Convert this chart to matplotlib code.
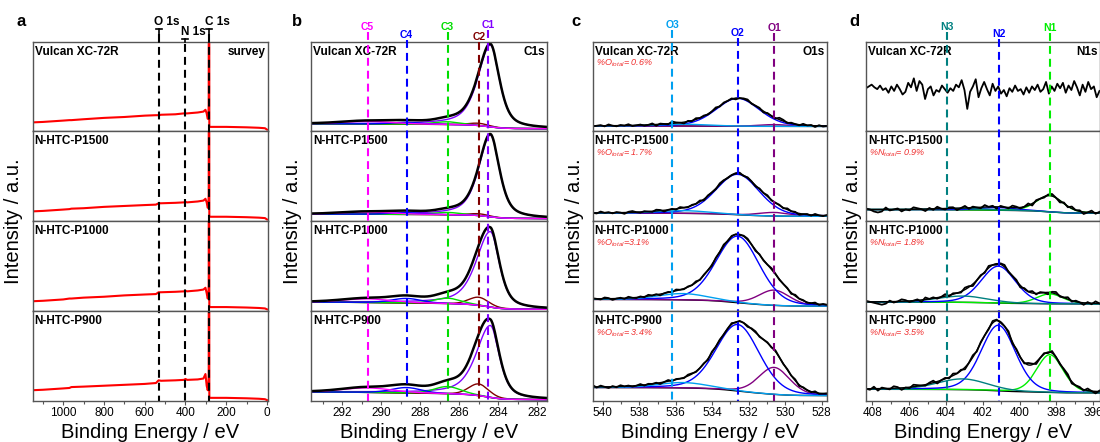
import numpy as np
import matplotlib.pyplot as plt
from matplotlib import transforms

plt.rcParams['font.family'] = ['Liberation Sans', 'DejaVu Sans']
plt.rcParams['mathtext.fontset'] = 'custom'
plt.rcParams['mathtext.rm'] = 'Liberation Sans'
plt.rcParams['mathtext.it'] = 'Liberation Sans:italic'

samples = ['Vulcan XC-72R', 'N-HTC-P1500', 'N-HTC-P1000', 'N-HTC-P900']

# ---------------- a: survey (fraction of row height)
survey_be = [1150, 1100, 1000, 970, 960, 900, 800, 700, 600, 545, 532, 520, 450, 408,
             400, 392, 340, 312, 302, 296, 291, 288, 286, 284.5, 283, 270, 200, 100, 40, 10, 0]
surv_vulcan = [0.10, 0.105, 0.12, 0.125, 0.125, 0.135, 0.15, 0.16, 0.175, 0.18, 0.18, 0.185, 0.19, 0.2,
               0.2, 0.2, 0.21, 0.22, 0.24, 0.2, 0.14, 0.15, 0.3, 6.0, 0.05, 0.05, 0.05, 0.045, 0.04, 0.035, 0.02]
surv_p1500 = [0.11, 0.115, 0.13, 0.135, 0.14, 0.145, 0.16, 0.17, 0.18, 0.185, 0.2, 0.2, 0.205, 0.21,
              0.215, 0.21, 0.22, 0.23, 0.25, 0.21, 0.15, 0.16, 0.3, 6.0, 0.05, 0.05, 0.05, 0.045, 0.04, 0.035, 0.02]
surv_p1000 = [0.11, 0.115, 0.13, 0.14, 0.14, 0.15, 0.16, 0.175, 0.185, 0.19, 0.21, 0.21, 0.215, 0.22,
              0.225, 0.22, 0.23, 0.24, 0.26, 0.2, 0.14, 0.16, 0.3, 6.0, 0.045, 0.045, 0.045, 0.04, 0.035, 0.03, 0.02]
surv_p900 = [0.12, 0.125, 0.14, 0.145, 0.155, 0.16, 0.17, 0.18, 0.19, 0.2, 0.23, 0.225, 0.23, 0.235,
             0.245, 0.235, 0.24, 0.25, 0.3, 0.17, 0.12, 0.15, 0.3, 6.0, 0.035, 0.035, 0.035, 0.03, 0.025, 0.02, 0.01]
survey_marks = [532, 400, 284]
survey_mark_names = ['O 1s', 'N 1s', 'C 1s']

# ---------------- b: C1s fit
c_names = ['C1', 'C2', 'C3', 'C4', 'C5']
c_lines = [284.5, 285.0, 286.6, 288.7, 290.7]
c_pos = [284.4, 285.0, 286.6, 288.7, 290.7]
c_fwhm = [1.1, 1.2, 1.6, 1.8, 3.0]
c1_tail = [1.5, 1.4, 1.7, 1.7]
c_amp_vulcan = [0.91, 0.025, 0.03, 0.02, 0.03]
c_amp_p1500 = [0.91, 0.02, 0.025, 0.02, 0.025]
c_amp_p1000 = [0.84, 0.09, 0.06, 0.05, 0.04]
c_amp_p900 = [0.80, 0.13, 0.08, 0.06, 0.05]
c_bg_left = [0.085, 0.08, 0.10, 0.10]
c_bg_right = [0.03, 0.03, 0.02, 0.015]

# ---------------- c: O1s fit
o_names = ['O1', 'O2', 'O3']
o_lines = [530.6, 532.6, 536.2]
o_pos = [530.6, 532.6, 535.6]
o_fwhm = [2.0, 2.8, 3.2]
o_amp_vulcan = [0.02, 0.31, 0.02]
o_amp_p1500 = [0.04, 0.45, 0.03]
o_amp_p1000 = [0.17, 0.74, 0.07]
o_amp_p900 = [0.30, 0.74, 0.06]
o_bg_left = [0.06, 0.09, 0.13, 0.15]
o_bg_right = [0.055, 0.055, 0.055, 0.06]
o_total = ['= 0.6%', '= 1.7%', '=3.1%', '= 3.4%']
o_noise1 = [0, -1, 1, -2, 1, 0, 2, -1, 0, 1, -1, 2, 3, -1, 0, 1, -2, 1, 0, -1, 2, 1, 0, -2, 1, 0, 1, -1, 2, 0,
            -1, 1, 0, 2, -1, 1, -2, 0, 1, 3, -1, 0, 1, -2, 2, 0, -1, 1, 0, -1, 2, 0, 1, -1, 0, 2, -1, 1, 0, -1]
o_noise2 = [1, -1, 0, 2, -1, 1, 0, -2, 1, 0, 2, -1, 1, 0, -1, 2, 0, 1, -2, 0, 1, -1, 2, 1, 0, -1, 1, 2, -1, 0,
            1, -2, 2, 0, 1, -1, 0, 2, -1, 1, 0, -2, 1, 2, -1, 0, 1, -1, 0, 2, 1, -2, 0, 1, -1, 1, 0, 2, -1, 0]
o_noise3 = [0, 1, -1, 2, 0, -1, 1, 0, 2, -2, 1, 0, -1, 1, 2, 0, -1, 1, -2, 0, 2, 1, -1, 0, 1, -1, 2, 0, 1, -2,
            0, 1, -1, 2, 0, 1, -1, 0, 2, -1, 1, 0, -2, 1, 0, 2, -1, 1, -1, 0, 2, -1, 1, 0, -2, 1, 2, -1, 0, 1]
o_noise4 = [1, 0, -1, 2, -1, 0, 1, -2, 2, 0, 1, -1, 0, 2, -1, 1, 0, -1, 2, 1, -2, 0, 1, -1, 2, 0, -1, 1, 0, 2,
            -2, 1, 0, -1, 1, 2, -1, 0, 1, -1, 2, 0, -2, 1, 0, 1, -1, 2, 0, -1, 1, 0, 2, -1, 1, -2, 0, 2, -1, 3]

# ---------------- d: N1s fit
n_names = ['N1', 'N2', 'N3']
n_lines = [398.35, 401.1, 403.95]
n_pos = [398.35, 401.15, 403.1]
n_fwhm = [1.7, 2.2, 3.2]
n_amp_p1500 = [0.18, 0.03, 0.015]
n_amp_p1000 = [0.11, 0.41, 0.07]
n_amp_p900 = [0.42, 0.73, 0.12]
n_bg_left = [0.13, 0.10, 0.13]
n_bg_right = [0.09, 0.08, 0.09]
n_total = ['= 0.9%', '= 1.8%', '= 3.5%']
n_vulcan = [45, 38, 50, 47, 55, 44, 52, 40, 49, 56, 46, 51, 43, 54, 48, 53, 45, 50, 42, 55, 47, 44, 52, 46,
            50, 43, 49, 41, 47, 45, 51, 44, 48, 39, 46, 42, 50, 45, 53, 40, 47, 55, 48, 38, 58, 50, 44, 25,
            46, 57, 49, 52, 45, 48, 43, 47, 51, 44, 46, 40, 50, 47, 36, 52, 56, 45, 59, 49, 54, 44, 41, 47,
            52, 45, 50, 43, 48, 46, 51, 47, 49, 52, 50, 48]
n_noise2 = [1, -1, 2, 0, -2, 1, 0, 2, -1, 1, -2, 0, 2, 1, -1, 0, 1, -2, 2, 0, -1, 1, 2, -1, 0, 1, -2, 1, 0, 2,
            -1, 0, 1, -1, 2, 0, -2, 1, 1, -1, 0, 2, -1, 1, -2, 0, 1, 2, -1, 0, -2, 1, 0, -1, 2, -2, -3, -2, 0, 1]
n_noise3 = [0, 2, -1, 1, -2, 0, 1, -1, 2, 0, -1, 2, 1, -2, 0, 1, -1, 2, 0, 1, -2, 1, 0, -1, 2, 1, -1, 0, 2, -1,
            1, 0, -2, 1, 2, -1, 0, 1, -1, 2, 0, -1, 1, 0, 2, -2, 1, 0, -1, 1, 2, 0, -1, 1, -2, -3, -2, -1, 0, 1]
n_noise4 = [1, -2, 0, 2, -1, 1, 0, -2, 2, 1, -1, 0, 2, -1, 1, 0, -2, 1, 2, -1, 0, 1, -2, 2, 0, -1, 1, 2, -1, 0,
            1, -1, 2, 0, -2, 1, 0, 2, -1, 1, 0, -2, 2, 1, -1, 0, 1, 2, -1, 0, -2, 1, 2, -1, 0, 1, -2, 2, -1, 0]

W, H = 1100, 442
fig = plt.figure(figsize=(11, 4.42), dpi=100)


def fx(px):
    return px / W


def fy(py):
    return 1 - py / H


panel_l = [32.7, 311, 592.7, 866]
panel_r = [268, 547, 827, 1099.5]
panel_lim = [(1150, -5), (293.6, 281.5), (540.56, 527.7), (408.35, 395.65)]
panel_major = [np.arange(0, 1001, 200), np.arange(282, 293, 2), np.arange(528, 541, 2), np.arange(396, 409, 2)]
panel_minor = [np.arange(100, 1101, 200), np.arange(283, 294, 2), np.arange(529, 541, 2), np.arange(397, 409, 2)]
right_tags = ['survey', 'C1s', 'O1s', 'N1s']
letters = ['a', 'b', 'c', 'd']
letter_x = [21, 297, 576, 854]
ylab_x = [14, 292, 575, 852]
top, bottom = 41.5, 401
rh = (bottom - top) / 4
spine_c = '#555555'


def pv(x, c, w, eta):
    g = np.exp(-4 * np.log(2) * ((x - c) / w) ** 2)
    l = 1 / (1 + 4 * ((x - c) / w) ** 2)
    return eta * l + (1 - eta) * g


def make_axes(p):
    axs = []
    for r in range(4):
        y0 = top + r * rh
        ax = fig.add_axes([fx(panel_l[p]), fy(y0 + rh), fx(panel_r[p] - panel_l[p]), rh / H])
        ax.set_xlim(*panel_lim[p])
        ax.set_ylim(0, 1)
        ax.set_yticks([])
        for sp in ax.spines.values():
            sp.set_color(spine_c)
            sp.set_linewidth(1.0)
        ax.set_xticks(panel_major[p])
        ax.set_xticks(panel_minor[p], minor=True)
        if r < 3:
            ax.tick_params(axis='x', which='both', bottom=False, labelbottom=False)
        else:
            ax.tick_params(axis='x', which='major', direction='out', length=3, width=0.8,
                           labelsize=8.5, pad=1.5, color=spine_c)
            ax.tick_params(axis='x', which='minor', direction='out', length=2, width=0.8, color=spine_c)
        aw = panel_r[p] - panel_l[p]
        ax.text(2 / aw, 1 - 4 / rh, samples[r], transform=ax.transAxes, ha='left', va='top',
                fontsize=8.5, fontweight='bold')
        if r == 0:
            ax.text(1 - 2 / aw, 1 - 4 / rh, right_tags[p], transform=ax.transAxes, ha='right', va='top',
                    fontsize=8.5, fontweight='bold')
        axs.append(ax)
    fig.text(fx(letter_x[p]), fy(21), letters[p], fontsize=12, fontweight='bold', ha='center', va='center')
    fig.text(fx(ylab_x[p]), fy((top + bottom) / 2), 'Intensity / a.u.', rotation=90,
             ha='center', va='center', fontsize=14.5)
    fig.text(fx((panel_l[p] + panel_r[p]) / 2), fy(432), 'Binding Energy / eV',
             ha='center', va='center', fontsize=14.5)
    return axs


def fit_row(ax, lim, pos, fwhm, amps, colors, bgl, bgr, noise=None, scale=0.0,
            tail=None, eta=0.2, env_lw=1.0):
    m = len(noise) if noise is not None else 81
    x = np.linspace(min(lim), max(lim), 6 * (m - 1) + 1)
    comps = []
    for i, (p, w, a) in enumerate(zip(pos, fwhm, amps)):
        if tail is not None and i == 0:
            comps.append(a * pv(x, p, np.where(x >= p, tail, w), 0.6))
        else:
            comps.append(a * pv(x, p, w, eta))
    total = np.sum(comps, axis=0)
    cum = np.cumsum(total)
    bg = bgr + (bgl - bgr) * cum / cum[-1]
    ax.plot(x, bg, color='k', lw=1.0)
    for comp, col in zip(comps, colors):
        ax.plot(x, bg + comp, color=col, lw=1.0)
    if noise is not None:
        ax.plot(x[::6], (bg + total)[::6] + np.array(noise) * scale, color='k', lw=1.3)
    ax.plot(x, bg + total, color='k', lw=env_lw)


def marker_lines(ax, xs, names, colors, label_y):
    trans = transforms.blended_transform_factory(ax.transData, fig.transFigure)
    for xv, nm, col, ly in zip(xs, names, colors, label_y):
        ax.plot([xv, xv], [fy(ly + 5), fy(bottom)], transform=trans, clip_on=False,
                color=col, lw=1.5, dashes=(3.8, 2.4))
        ax.text(xv, fy(ly), nm, transform=trans, ha='center', va='center', color=col,
                fontsize=7.5, fontweight='bold')


# ---------------- panel a
axs = make_axes(0)
for ax, ys in zip(axs, [surv_vulcan, surv_p1500, surv_p1000, surv_p900]):
    ax.plot(survey_be, ys, color='#FF0000', lw=1.5)
ax = axs[3]
trans = transforms.blended_transform_factory(ax.transData, fig.transFigure)
ev_px = (1150 + 5) / (panel_r[0] - panel_l[0])
for xv, nm, ty in zip(survey_marks, survey_mark_names, [29, 39, 29]):
    ax.plot([xv, xv], [fy(ty + 5), fy(bottom)], transform=trans, clip_on=False,
            color='k', lw=1.5, dashes=(3.8, 2.4))
    ax.plot([xv, xv], [fy(ty), fy(top)], transform=trans, clip_on=False, color='k', lw=1.2)
    ax.plot([xv + 3 * ev_px, xv - 3 * ev_px], [fy(ty), fy(ty)], transform=trans, clip_on=False,
            color='k', lw=1.2)
    ax.text(xv + 4.3 * ev_px, fy(ty - 1), nm, transform=trans, ha='left', va='bottom',
            fontsize=8.5, fontweight='bold')

# ---------------- panel b
c_colors = ['#8000FF', '#800000', '#00DD00', '#0000FF', '#FF00FF']
axs = make_axes(1)
for r, (ax, amps) in enumerate(zip(axs, [c_amp_vulcan, c_amp_p1500, c_amp_p1000, c_amp_p900])):
    fit_row(ax, panel_lim[1], c_pos, c_fwhm, amps, c_colors, c_bg_left[r], c_bg_right[r],
            tail=c1_tail[r], env_lw=1.8)
marker_lines(axs[3], c_lines, c_names, c_colors, [25, 37, 27, 35, 27])

# ---------------- panel c
o_colors = ['#800080', '#0000FF', '#00A0F0']
axs = make_axes(2)
for r, (ax, amps, nz) in enumerate(zip(axs, [o_amp_vulcan, o_amp_p1500, o_amp_p1000, o_amp_p900],
                                       [o_noise1, o_noise2, o_noise3, o_noise4])):
    fit_row(ax, panel_lim[2], o_pos, o_fwhm, amps, o_colors, o_bg_left[r], o_bg_right[r],
            noise=nz, scale=0.007)
    aw = panel_r[2] - panel_l[2]
    ax.text(3 / aw, 1 - 16 / rh, r'%$O_{total}$' + o_total[r], transform=ax.transAxes, ha='left',
            va='top', color='#F03030', fontsize=6.5, style='italic')
marker_lines(axs[3], o_lines, o_names, o_colors, [28, 33, 25])

# ---------------- panel d
n_colors = ['#00EE00', '#0000FF', '#008080']
axs = make_axes(3)
axs[0].plot(np.linspace(min(panel_lim[3]), max(panel_lim[3]), len(n_vulcan)),
            np.array(n_vulcan) / 100, color='k', lw=1.3)
for r, (ax, amps, nz) in enumerate(zip(axs[1:], [n_amp_p1500, n_amp_p1000, n_amp_p900],
                                       [n_noise2, n_noise3, n_noise4])):
    fit_row(ax, panel_lim[3], n_pos, n_fwhm, amps, n_colors, n_bg_left[r], n_bg_right[r],
            noise=nz, scale=0.011)
    aw = panel_r[3] - panel_l[3]
    ax.text(3 / aw, 1 - 16 / rh, r'%$N_{total}$' + n_total[r], transform=ax.transAxes, ha='left',
            va='top', color='#F03030', fontsize=6.5, style='italic')
marker_lines(axs[3], n_lines, n_names, n_colors, [28, 34, 27])

fig.savefig('out.png', dpi=100)
